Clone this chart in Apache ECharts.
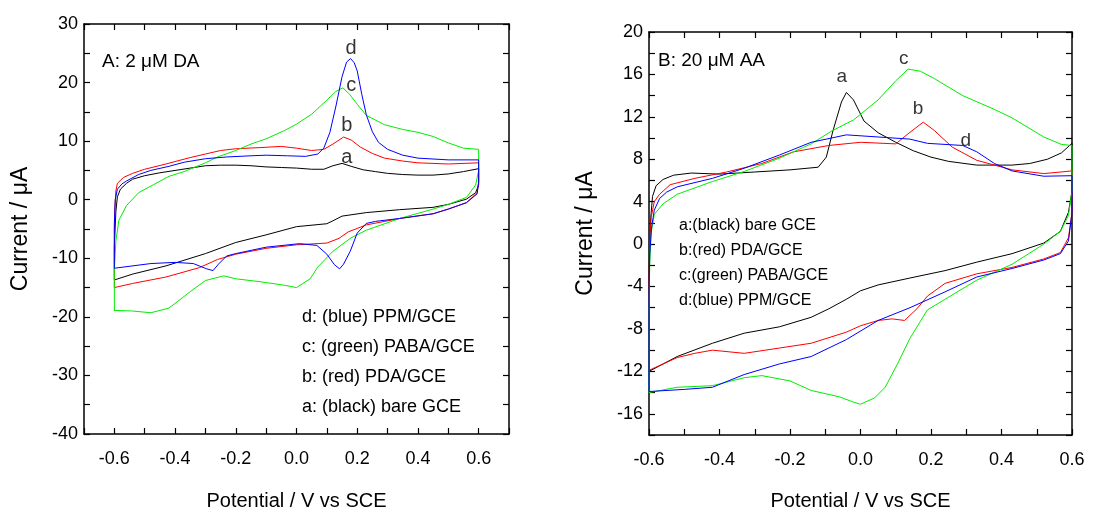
<!DOCTYPE html>
<html>
<head>
<meta charset="utf-8">
<script src="https://cdn.jsdelivr.net/npm/echarts@6/dist/echarts.min.js"></script>
<style>
html,body{margin:0;padding:0;background:#fff;}
#chart{width:1094px;height:516px;}
</style>
</head>
<body>
<div id="chart"></div>
<script>
// ---------- Panel A: 2 uM DA ----------
var xTicksA = [-0.7, 0.7, 0.1];   // min, max, tick step
var yTicksA = [-40, 30, 5];
var aFwdA = [[-0.6,-13.7],[-0.6,-8],[-0.595,-2],[-0.59,0.5],[-0.58,1.8],[-0.56,2.8],[-0.54,3.5],[-0.5,4.1],[-0.45,4.6],[-0.4,5.0],[-0.35,5.4],[-0.3,5.8],[-0.25,5.9],[-0.2,5.9],[-0.15,5.8],[-0.1,5.6],[-0.05,5.5],[0.0,5.4],[0.05,5.2],[0.09,5.2],[0.12,5.8],[0.15,6.2],[0.18,5.7],[0.22,5.1],[0.26,4.8],[0.3,4.5],[0.35,4.3],[0.4,4.2],[0.45,4.2],[0.5,4.4],[0.55,4.8],[0.6,5.3]];
var aRevA = [[0.6,2.5],[0.59,1.2],[0.56,0.1],[0.5,-0.8],[0.45,-1.3],[0.34,-1.7],[0.23,-2.2],[0.15,-2.8],[0.12,-3.6],[0.1,-4.1],[0.0,-4.6],[-0.1,-6.0],[-0.2,-7.3],[-0.3,-9.2],[-0.43,-11.3],[-0.54,-12.7],[-0.6,-13.7]];
var bFwdA = [[-0.6,-15],[-0.6,-5],[-0.598,-1],[-0.595,1.5],[-0.59,2.8],[-0.57,3.8],[-0.54,4.5],[-0.5,5.2],[-0.43,6.1],[-0.35,7.2],[-0.3,7.8],[-0.25,8.4],[-0.2,8.7],[-0.12,8.9],[-0.05,9.1],[0.0,8.8],[0.05,8.4],[0.09,8.6],[0.12,9.5],[0.155,10.7],[0.18,10.2],[0.21,9.0],[0.25,7.9],[0.29,7.1],[0.35,6.6],[0.4,6.3],[0.5,6.1],[0.6,6.3]];
var bRevA = [[0.6,3],[0.595,1.2],[0.56,-0.5],[0.5,-1.6],[0.45,-2.4],[0.34,-3.2],[0.23,-4.3],[0.2,-4.9],[0.17,-5.5],[0.14,-6.6],[0.1,-7.4],[0.0,-7.7],[-0.1,-8.3],[-0.2,-9.3],[-0.26,-10.2],[-0.32,-11.6],[-0.43,-13.2],[-0.54,-14.3],[-0.6,-15.0]];
var cFwdA = [[-0.6,-19],[-0.6,-12],[-0.595,-7],[-0.585,-3.5],[-0.56,-1.0],[-0.52,1.2],[-0.47,2.6],[-0.42,4.0],[-0.37,4.8],[-0.3,6.3],[-0.26,7.3],[-0.2,8.4],[-0.15,9.5],[-0.1,10.4],[-0.04,11.8],[0.0,12.9],[0.05,14.6],[0.1,17.0],[0.13,18.5],[0.153,19.1],[0.175,18.0],[0.2,16.3],[0.23,14.4],[0.29,12.8],[0.35,12.0],[0.4,11.5],[0.45,10.8],[0.5,9.7],[0.55,8.8],[0.6,8.6]];
var cRevA = [[0.6,5],[0.59,2.5],[0.56,0.4],[0.5,-0.8],[0.45,-1.6],[0.34,-3.2],[0.23,-5.2],[0.18,-6.5],[0.12,-8.8],[0.07,-11.5],[0.045,-13.5],[0.0,-15.0],[-0.04,-14.6],[-0.12,-14.0],[-0.2,-13.5],[-0.24,-13.0],[-0.3,-13.8],[-0.35,-15.7],[-0.42,-18.5],[-0.48,-19.3],[-0.54,-19.0],[-0.6,-18.9]];
var dFwdA = [[-0.6,-11.7],[-0.6,-4],[-0.597,0],[-0.59,1.8],[-0.575,2.7],[-0.56,3.2],[-0.52,4.3],[-0.48,5.0],[-0.42,5.7],[-0.37,6.4],[-0.3,7.0],[-0.23,7.3],[-0.15,7.5],[-0.1,7.6],[-0.03,7.5],[0.03,7.4],[0.07,7.8],[0.09,8.8],[0.11,11.5],[0.13,16],[0.15,21],[0.165,23.5],[0.178,24.1],[0.19,23.4],[0.2,22.0],[0.215,18],[0.23,14.5],[0.25,11.6],[0.27,9.8],[0.3,8.6],[0.35,7.6],[0.4,7.1],[0.5,6.8],[0.6,6.8]];
var dRevA = [[0.6,3],[0.595,1.0],[0.56,-0.5],[0.5,-1.6],[0.45,-2.4],[0.34,-3.2],[0.26,-3.7],[0.23,-4.05],[0.2,-5.7],[0.177,-8.8],[0.155,-11.0],[0.142,-11.8],[0.125,-11.1],[0.1,-9.3],[0.067,-7.8],[0.01,-7.5],[-0.1,-8.1],[-0.2,-9.2],[-0.23,-9.6],[-0.257,-11.0],[-0.275,-12.1],[-0.296,-11.8],[-0.34,-10.9],[-0.4,-10.7],[-0.48,-10.9],[-0.6,-11.7]];
var peakLabelsA = [['d',0.18,25.8],['c',0.18,19.5],['b',0.166,12.7],['a',0.166,7.2]];
var legendA = ['d: (blue) PPM/GCE','c: (green) PABA/GCE','b: (red) PDA/GCE','a: (black) bare GCE'];
var titleA = 'A: 2 \u03bcM DA';

// ---------- Panel B: 20 uM AA ----------
var xTicksB = [-0.6, 0.6, 0.1];
var yTicksB = [-18, 20, 2];
var aFwdB = [[-0.6,-12],[-0.6,-4],[-0.598,0],[-0.595,2.5],[-0.59,4.5],[-0.58,5.5],[-0.56,6.1],[-0.53,6.5],[-0.48,6.7],[-0.4,6.6],[-0.3,6.8],[-0.2,7.0],[-0.12,7.25],[-0.097,8.2],[-0.078,10.7],[-0.054,13.4],[-0.04,14.3],[-0.02,13.6],[0.01,11.6],[0.05,10.5],[0.1,9.6],[0.15,8.8],[0.2,8.2],[0.25,7.8],[0.33,7.45],[0.43,7.45],[0.48,7.6],[0.53,8.0],[0.57,8.6],[0.6,9.5]];
var aRevB = [[0.6,5],[0.59,3.0],[0.567,1.2],[0.52,0.1],[0.43,-0.9],[0.33,-1.7],[0.24,-2.5],[0.14,-3.2],[0.05,-3.85],[0.0,-4.4],[-0.04,-5.2],[-0.09,-6.1],[-0.14,-6.9],[-0.23,-7.8],[-0.33,-8.4],[-0.42,-9.35],[-0.52,-10.6],[-0.6,-12.0]];
var bFwdB = [[-0.6,-11.9],[-0.6,-4],[-0.598,0],[-0.594,2.5],[-0.585,4.0],[-0.57,4.7],[-0.54,5.6],[-0.47,6.2],[-0.38,6.8],[-0.28,7.6],[-0.19,8.7],[-0.09,9.3],[0.0,9.6],[0.1,9.45],[0.135,10.4],[0.178,11.5],[0.21,10.7],[0.26,9.15],[0.33,7.9],[0.43,7.0],[0.52,6.65],[0.6,6.9]];
var bRevB = [[0.6,3],[0.59,0.6],[0.567,-0.8],[0.52,-1.4],[0.43,-2.2],[0.33,-2.8],[0.24,-3.7],[0.19,-4.9],[0.16,-6.1],[0.125,-7.2],[0.09,-7.05],[0.05,-7.2],[0.0,-7.7],[-0.04,-8.3],[-0.14,-9.35],[-0.23,-9.8],[-0.33,-10.3],[-0.42,-10.0],[-0.47,-10.3],[-0.52,-10.7],[-0.6,-11.9]];
var cFwdB = [[-0.6,-14],[-0.6,-6],[-0.598,-2],[-0.594,1.0],[-0.585,2.8],[-0.56,3.8],[-0.52,4.7],[-0.42,5.9],[-0.33,6.85],[-0.23,8.1],[-0.14,9.45],[-0.08,10.7],[-0.02,11.7],[0.05,13.6],[0.1,15.4],[0.135,16.5],[0.17,16.3],[0.21,15.6],[0.29,14.0],[0.38,12.7],[0.43,11.9],[0.52,10.1],[0.57,9.4],[0.6,9.3]];
var cRevB = [[0.6,5],[0.59,2.7],[0.567,1.2],[0.52,0.0],[0.43,-1.9],[0.33,-3.4],[0.24,-5.2],[0.19,-6.2],[0.14,-8.9],[0.105,-11.3],[0.07,-13.5],[0.04,-14.5],[0.0,-15.1],[-0.02,-14.9],[-0.06,-14.4],[-0.14,-13.8],[-0.2,-12.9],[-0.28,-12.4],[-0.33,-12.6],[-0.42,-13.35],[-0.52,-13.5],[-0.6,-14.0]];
var dFwdB = [[-0.6,-13.9],[-0.6,-5],[-0.598,-1],[-0.593,1.5],[-0.585,3.2],[-0.57,4.3],[-0.55,4.9],[-0.52,5.4],[-0.42,6.2],[-0.33,7.15],[-0.23,8.4],[-0.14,9.6],[-0.04,10.3],[0.05,10.1],[0.14,9.9],[0.19,9.5],[0.29,9.3],[0.33,8.7],[0.38,7.6],[0.43,6.9],[0.52,6.4],[0.6,6.45]];
var dRevB = [[0.6,3],[0.59,0.3],[0.567,-0.9],[0.52,-1.5],[0.43,-2.3],[0.33,-3.1],[0.24,-4.5],[0.14,-6.0],[0.05,-7.2],[-0.04,-9.0],[-0.14,-10.6],[-0.23,-11.3],[-0.33,-12.3],[-0.42,-13.5],[-0.5,-13.7],[-0.6,-13.9]];
var peakLabelsB = [['c',0.123,17.5],['a',-0.053,15.75],['b',0.163,12.8],['d',0.299,9.7]];
var legendB = ['a:(black) bare GCE','b:(red) PDA/GCE','c:(green) PABA/GCE','d:(blue) PPM/GCE'];
var titleB = 'B: 20 \u03bcM AA';

var xName = 'Potential / V vs SCE';
var yName = 'Current / \u03bcA';

// ---------- build ----------
var FONT = '"Liberation Sans", Arial, sans-serif';
var COLORS = {a:'#000000', b:'#ff0000', c:'#00ee00', d:'#0000ff'};

function xLabelFmt(v){
  var t = Math.round(v*10);
  if (t % 2 !== 0 || Math.abs(t) > 6) return '';
  return (t/10).toFixed(1);
}
function yLabelFmt(step){
  return function(v){
    var r = Math.round(v);
    return (r % step === 0) ? String(r) : '';
  };
}
function mainX(grid, t, gap){
  return {type:'value', gridIndex:grid, min:t[0], max:t[1], interval:t[2],
    name:xName, nameLocation:'middle', nameGap:gap,
    nameTextStyle:{fontFamily:FONT, fontSize:20, color:'#000'},
    axisLine:{show:true, onZero:false, lineStyle:{color:'#000', width:1.5}},
    axisTick:{show:true, inside:true, length:6, lineStyle:{color:'#000', width:1.2}},
    axisLabel:{fontFamily:FONT, fontSize:18, color:'#000', margin:16, formatter:xLabelFmt, showMinLabel:true, showMaxLabel:true},
    splitLine:{show:false}};
}
function mirrorX(grid, t){
  return {type:'value', gridIndex:grid, position:'top', min:t[0], max:t[1], interval:t[2],
    axisLine:{show:true, onZero:false, lineStyle:{color:'#000', width:1.5}},
    axisTick:{show:true, inside:true, length:6, lineStyle:{color:'#000', width:1.2}},
    axisLabel:{show:false}, splitLine:{show:false}};
}
function mainY(grid, t, step, gap){
  return {type:'value', gridIndex:grid, min:t[0], max:t[1], interval:t[2],
    name:yName, nameLocation:'middle', nameGap:gap, nameRotate:90,
    nameTextStyle:{fontFamily:FONT, fontSize:23, color:'#000'},
    axisLine:{show:true, onZero:false, lineStyle:{color:'#000', width:1.5}},
    axisTick:{show:true, inside:true, length:6, lineStyle:{color:'#000', width:1.2}},
    axisLabel:{fontFamily:FONT, fontSize:18, color:'#000', margin:6, formatter:yLabelFmt(step), showMinLabel:true, showMaxLabel:true},
    splitLine:{show:false}};
}
function mirrorY(grid, t){
  return {type:'value', gridIndex:grid, position:'right', min:t[0], max:t[1], interval:t[2],
    axisLine:{show:true, onZero:false, lineStyle:{color:'#000', width:1.5}},
    axisTick:{show:true, inside:true, length:6, lineStyle:{color:'#000', width:1.2}},
    axisLabel:{show:false}, splitLine:{show:false}};
}
function cv(name, fwd, rev, xi, yi){
  return {type:'line', name:name, xAxisIndex:xi, yAxisIndex:yi, data:fwd.concat(rev),
    showSymbol:false, symbol:'none', smooth:false, silent:true,
    lineStyle:{color:COLORS[name], width:1}, z:3};
}
function peaks(list, xi, yi, size){
  return {type:'scatter', xAxisIndex:xi, yAxisIndex:yi, symbolSize:1, silent:true, z:5,
    itemStyle:{color:'rgba(0,0,0,0)'},
    data:list.map(function(p){return {value:[p[1],p[2]], name:p[0]};}),
    label:{show:true, position:'inside', formatter:'{b}', fontFamily:FONT, fontSize:size, color:'#000'}};
}

var series = [
  cv('a', aFwdA, aRevA, 0, 0), cv('b', bFwdA, bRevA, 0, 0), cv('c', cFwdA, cRevA, 0, 0), cv('d', dFwdA, dRevA, 0, 0),
  cv('a', aFwdB, aRevB, 2, 2), cv('b', bFwdB, bRevB, 2, 2), cv('c', cFwdB, cRevB, 2, 2), cv('d', dFwdB, dRevB, 2, 2),
  peaks(peakLabelsA, 0, 0, 20), peaks(peakLabelsB, 2, 2, 19)
];

var graphics = [];
legendA.forEach(function(t, i){
  graphics.push({type:'text', left:302, top:308 + i*30, style:{text:t, font:'18px ' + FONT, fill:'#000'}});
});
legendB.forEach(function(t, i){
  graphics.push({type:'text', left:679, top:218 + i*25, style:{text:t, font:'16px ' + FONT, fill:'#000'}});
});
graphics.push({type:'text', left:102, top:52, style:{text:titleA, font:'19px ' + FONT, fill:'#000'}});
graphics.push({type:'text', left:658, top:51, style:{text:titleB, font:'19px ' + FONT, fill:'#000'}});

var chart = echarts.init(document.getElementById('chart'), null, {renderer:'canvas'});
chart.setOption({
  animation:false,
  backgroundColor:'#fff',
  grid:[
    {left:84, top:24, width:425, height:420, containLabel:false},
    {left:649, top:32, width:423, height:413, containLabel:false}
  ],
  xAxis:[mainX(0, xTicksA, 57), mirrorX(0, xTicksA), mainX(1, xTicksB, 56), mirrorX(1, xTicksB)],
  yAxis:[mainY(0, yTicksA, 10, 52), mirrorY(0, yTicksA), mainY(1, yTicksB, 4, 52), mirrorY(1, yTicksB)],
  series:series,
  graphic:graphics
});
</script>
</body>
</html>
